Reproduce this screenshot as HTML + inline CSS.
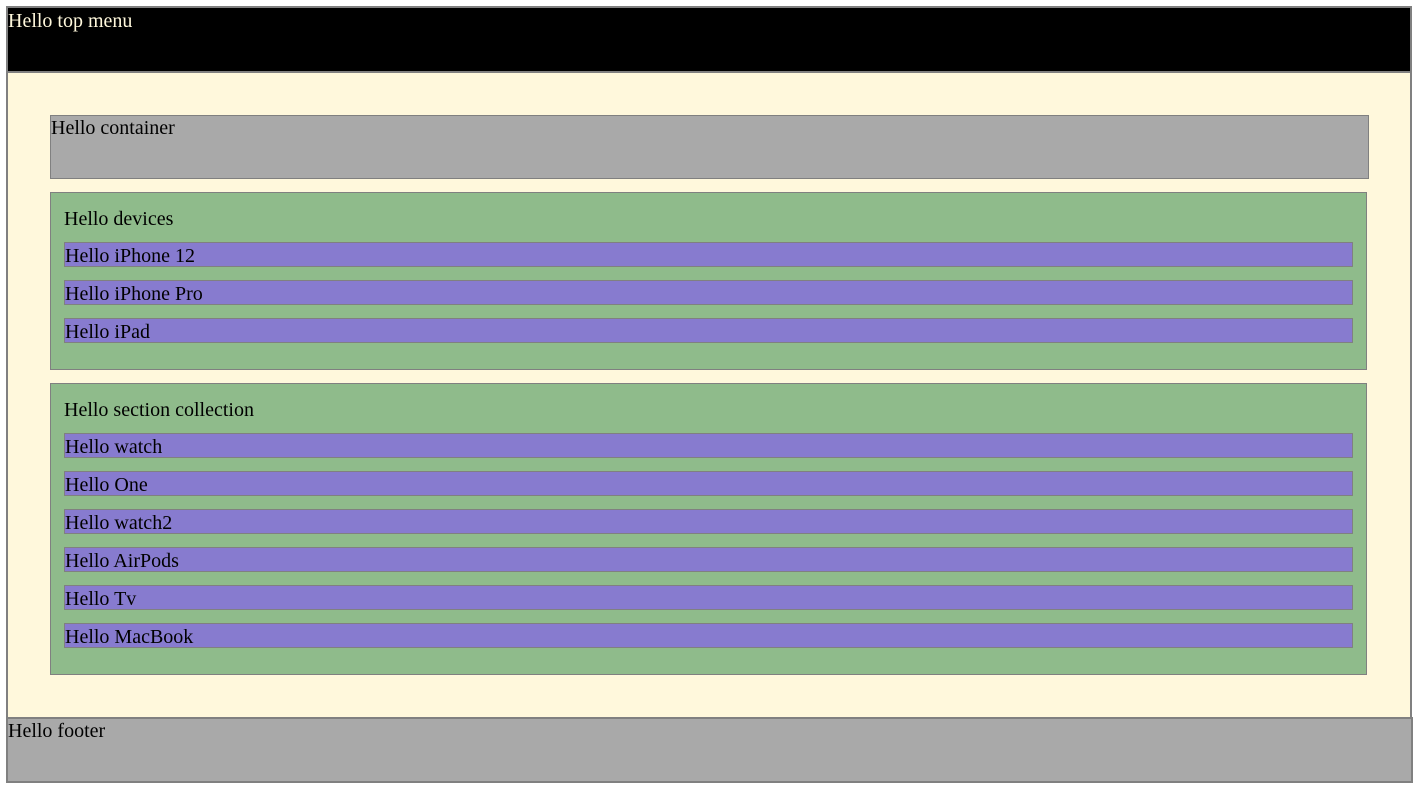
<!DOCTYPE html>
<html><head><meta charset="utf-8"><style>
html,body{margin:0;padding:0;width:1418px;height:788px;background:#fff;overflow:hidden}
*{box-sizing:border-box}
div{position:absolute;font-family:"Liberation Serif",serif;font-size:20px;line-height:25px}
.g{border:1px solid #808080}
.item{left:64px;width:1289px;height:25px;background:#877bcf;line-height:23px;padding-top:2px}
</style></head><body>
<div style="left:6px;top:6px;width:1406px;height:67px;background:#000;color:#fff8dc;border:2px solid #808080;padding-top:1px">Hello top menu</div>
<div style="left:6px;top:71px;width:1406px;height:648px;background:#fff8dc;border:2px solid #808080;border-top:none"></div>
<div style="left:6px;top:71px;width:1406px;height:2px;background:#808080"></div>
<div class="g" style="left:50px;top:115px;width:1319px;height:64px;background:#a9a9a9">Hello container</div>
<div class="g" style="left:50px;top:192px;width:1317px;height:178px;background:#8fbb8b">
 <div style="left:13px;top:14px">Hello devices</div>
</div>
<div class="g item" style="top:242px">Hello iPhone 12</div>
<div class="g item" style="top:280px">Hello iPhone Pro</div>
<div class="g item" style="top:318px">Hello iPad</div>
<div class="g" style="left:50px;top:383px;width:1317px;height:292px;background:#8fbb8b">
 <div style="left:13px;top:14px">Hello section collection</div>
</div>
<div class="g item" style="top:433px">Hello watch</div>
<div class="g item" style="top:471px">Hello One</div>
<div class="g item" style="top:509px">Hello watch2</div>
<div class="g item" style="top:547px">Hello AirPods</div>
<div class="g item" style="top:585px">Hello Tv</div>
<div class="g item" style="top:623px">Hello MacBook</div>
<div style="left:6px;top:717px;width:1407px;height:66px;background:#a9a9a9;border:2px solid #808080">Hello footer</div>
</body></html>
